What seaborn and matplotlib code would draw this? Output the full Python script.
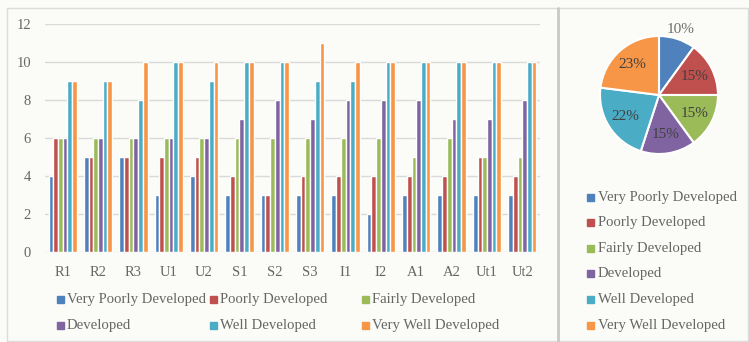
import matplotlib
matplotlib.use("Agg")
import matplotlib.pyplot as plt
from matplotlib.patches import Rectangle
from matplotlib.lines import Line2D
import numpy as np
import pandas as pd
import seaborn as sns

# Development level scores per region
categories = ["R1", "R2", "R3", "U1", "U2", "S1", "S2", "S3", "I1", "I2", "A1", "A2", "Ut1", "Ut2"]
series = ["Very Poorly Developed", "Poorly Developed", "Fairly Developed",
          "Developed", "Well Developed", "Very Well Developed"]
very_poorly = [4, 5, 5, 3, 4, 3, 3, 3, 3, 2, 3, 3, 3, 3]
poorly      = [6, 5, 5, 5, 5, 4, 3, 4, 4, 4, 4, 4, 5, 4]
fairly      = [6, 6, 6, 6, 6, 6, 6, 6, 6, 6, 5, 6, 5, 5]
developed   = [6, 6, 6, 6, 6, 7, 8, 7, 8, 8, 8, 7, 7, 8]
well        = [9, 9, 8, 10, 9, 10, 10, 9, 9, 10, 10, 10, 10, 10]
very_well   = [9, 9, 10, 10, 10, 10, 10, 11, 10, 10, 10, 10, 10, 10]

# Overall share of each development level (%)
pie_shares = [10, 15, 15, 15, 22, 23]

colors = ["#4F81BD", "#C0504D", "#9BBB59", "#8064A2", "#4BACC6", "#F79646"]

values = [very_poorly, poorly, fairly, developed, well, very_well]
df = pd.DataFrame({
    "category": np.tile(categories, len(series)),
    "series": np.repeat(series, len(categories)),
    "value": np.concatenate(values),
})

sns.set_theme(style="white")
plt.rcParams["font.family"] = ["Liberation Serif", "DejaVu Serif"]
text_gray = "#666666"

W, H = 749, 342
fig = plt.figure(figsize=(W / 100, H / 100), dpi=100)
fig.patch.set_facecolor("#fbfbf7")

def fx(px):
    return px / W

def fy(py):
    return 1 - py / H

# Panel frame and separator
fig.add_artist(Rectangle((fx(7), fy(341)), fx(741), fy(8) - fy(341),
                         transform=fig.transFigure, fill=False,
                         edgecolor="#dcdcdc", lw=1))
fig.add_artist(Line2D([fx(558), fx(558)], [fy(8), fy(341)],
                      transform=fig.transFigure, color="#c8c8c8", lw=2))

# ---- Grouped bar chart ----
ax = fig.add_axes([fx(45), fy(252), fx(495), fy(24) - fy(252)])
ax.set_facecolor("none")
sns.barplot(data=df, x="category", y="value", hue="series", hue_order=series,
            order=categories, palette=colors, saturation=1, width=0.8,
            legend=False, ax=ax, zorder=3)
ax.set_ylim(0, 12)
ax.set_yticks(range(0, 13, 2))
ax.set_xlim(-0.5, len(categories) - 0.5)
ax.set_xlabel("")
ax.set_ylabel("")
for s in ax.spines.values():
    s.set_visible(False)
ax.grid(axis="y", color="#d9d9d9", lw=1, zorder=0)
ax.tick_params(axis="both", length=0, labelsize=10.5, colors=text_gray)
ax.tick_params(axis="y", pad=10)
ax.tick_params(axis="x", pad=10)

# Bar legend: two rows, three equal columns
col_x = [60, 213, 365]
row_y = [299, 325]
for i, (name, c) in enumerate(zip(series, colors)):
    r, k = divmod(i, 3)
    x0, y0 = col_x[k], row_y[r]
    fig.add_artist(Rectangle((fx(x0 - 3.5), fy(y0 + 3.5)), fx(7), fy(0) - fy(7),
                             transform=fig.transFigure, color=c))
    fig.text(fx(x0 + 7), fy(y0), name, fontsize=10.6, color=text_gray,
             va="center", ha="left")

# ---- Pie chart ----
r_px = 59
pax = fig.add_axes([fx(659 - r_px), fy(95 + r_px), fx(2 * r_px), fy(0) - fy(2 * r_px)])
wedges, _, autotexts = pax.pie(
    pie_shares, colors=colors, startangle=90, counterclock=False,
    autopct=lambda p: f"{p:.0f}%", pctdistance=0.68,
    wedgeprops=dict(edgecolor="white", linewidth=1.5),
    textprops=dict(fontsize=11, color="#404040"))
pax.set_xlim(-1, 1)
pax.set_ylim(-1, 1)
pax.set_aspect("equal")
# The smallest slice carries its label outside the pie
w0 = wedges[0]
mid = np.deg2rad((w0.theta1 + w0.theta2) / 2)
autotexts[0].set_position((1.2 * np.cos(mid), 1.16 * np.sin(mid)))
autotexts[0].set_color("#6e6e6e")

# Pie legend: single column
for i, (name, c) in enumerate(zip(series, colors)):
    y0 = 197 + i * 25.6
    x0 = 590
    fig.add_artist(Rectangle((fx(x0 - 3.5), fy(y0 + 3.5)), fx(7), fy(0) - fy(7),
                             transform=fig.transFigure, color=c))
    fig.text(fx(x0 + 8), fy(y0), name, fontsize=10.6, color=text_gray,
             va="center", ha="left")

fig.savefig("out.png", dpi=100, facecolor=fig.get_facecolor())
